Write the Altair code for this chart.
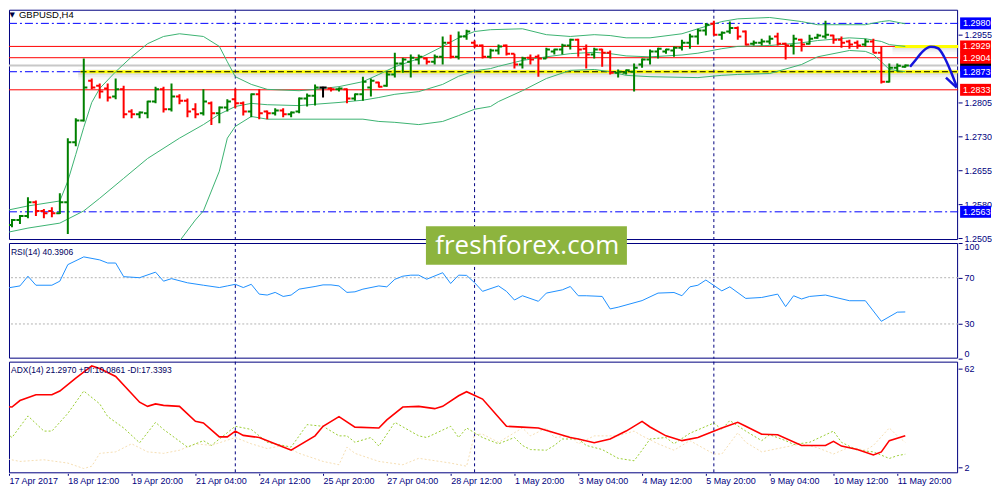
import altair as alt
import numpy as np
import pandas as pd

SYMBOL = "GBPUSD,H4"
RSI_TITLE = "RSI(14) 40.3906"
ADX_TITLE = "ADX(14) 21.2970 +DI:10.0861 -DI:17.3393"
WATERMARK = "freshforex.com"

# ---------------- price bars (H4) ----------------
OPEN = [1.2539,1.2534,1.2545,1.2554,1.2584,1.2565,1.2565,1.2560,1.2584,1.2717,
        1.2765,1.2853,1.2842,1.2836,1.2818,1.2834,1.2785,1.2779,1.2781,1.2807,
        1.2834,1.2790,1.2818,1.2809,1.2790,1.2781,1.2803,1.2781,1.2794,1.2812,
        1.2803,1.2785,1.2823,1.2785,1.2781,1.2787,1.2779,1.2785,1.2814,1.2820,
        1.2838,1.2836,1.2834,1.2834,1.2814,1.2823,1.2838,1.2849,1.2842,1.2867,
        1.2891,1.2895,1.2900,1.2902,1.2895,1.2906,1.2937,1.2906,1.2951,1.2937,
        1.2931,1.2906,1.2920,1.2931,1.2913,1.2889,1.2904,1.2906,1.2902,1.2918,
        1.2922,1.2931,1.2944,1.2924,1.2911,1.2922,1.2915,1.2871,1.2871,1.2873,
        1.2889,1.2900,1.2918,1.2918,1.2920,1.2926,1.2937,1.2951,1.2964,1.2979,
        1.2955,1.2962,1.2970,1.2962,1.2935,1.2937,1.2940,1.2951,1.2935,1.2931,
        1.2944,1.2935,1.2948,1.2951,1.2953,1.2944,1.2940,1.2937,1.2933,1.2940,
        1.2915,1.2851,1.2882,1.2884]
HIGH = [1.2540,1.2547,1.2556,1.2595,1.2588,1.2569,1.2573,1.2604,1.2726,1.2770,
        1.2902,1.2858,1.2847,1.2847,1.2858,1.2842,1.2790,1.2785,1.2809,1.2840,
        1.2840,1.2847,1.2823,1.2814,1.2803,1.2834,1.2807,1.2796,1.2812,1.2836,
        1.2807,1.2825,1.2834,1.2787,1.2792,1.2792,1.2785,1.2816,1.2825,1.2845,
        1.2840,1.2838,1.2838,1.2836,1.2825,1.2862,1.2858,1.2851,1.2873,1.2915,
        1.2904,1.2911,1.2911,1.2904,1.2911,1.2951,1.2955,1.2962,1.2966,1.2942,
        1.2933,1.2924,1.2933,1.2933,1.2913,1.2906,1.2911,1.2911,1.2926,1.2924,
        1.2935,1.2946,1.2946,1.2933,1.2926,1.2924,1.2920,1.2878,1.2878,1.2891,
        1.2902,1.2922,1.2926,1.2924,1.2929,1.2944,1.2957,1.2968,1.2981,1.2986,
        1.2962,1.2984,1.2973,1.2964,1.2942,1.2946,1.2953,1.2959,1.2937,1.2955,
        1.2946,1.2955,1.2957,1.2986,1.2955,1.2951,1.2944,1.2942,1.2946,1.2946,
        1.2929,1.2891,1.2891,1.2889]
LOW = [1.2531,1.2529,1.2536,1.2549,1.2554,1.2549,1.2551,1.2558,1.2514,1.2708,
       1.2763,1.2834,1.2814,1.2807,1.2812,1.2770,1.2770,1.2770,1.2770,1.2803,
       1.2783,1.2785,1.2801,1.2772,1.2770,1.2776,1.2755,1.2759,1.2785,1.2792,
       1.2776,1.2772,1.2768,1.2768,1.2776,1.2772,1.2772,1.2781,1.2796,1.2798,
       1.2816,1.2829,1.2829,1.2803,1.2809,1.2809,1.2818,1.2838,1.2840,1.2860,
       1.2871,1.2860,1.2889,1.2889,1.2889,1.2889,1.2902,1.2900,1.2944,1.2926,
       1.2902,1.2902,1.2911,1.2909,1.2880,1.2880,1.2889,1.2862,1.2902,1.2911,
       1.2911,1.2922,1.2906,1.2880,1.2902,1.2884,1.2867,1.2860,1.2867,1.2829,
       1.2882,1.2889,1.2902,1.2913,1.2906,1.2920,1.2924,1.2933,1.2953,1.2953,
       1.2944,1.2957,1.2944,1.2931,1.2931,1.2931,1.2933,1.2931,1.2900,1.2911,
       1.2918,1.2933,1.2946,1.2946,1.2935,1.2926,1.2924,1.2924,1.2929,1.2915,
       1.2847,1.2849,1.2873,1.2882]
CLOSE = [1.2534,1.2545,1.2554,1.2584,1.2565,1.2560,1.2560,1.2584,1.2717,1.2765,
         1.2838,1.2838,1.2829,1.2816,1.2834,1.2779,1.2779,1.2783,1.2807,1.2834,
         1.2790,1.2818,1.2809,1.2785,1.2779,1.2807,1.2781,1.2794,1.2807,1.2803,
         1.2785,1.2823,1.2781,1.2781,1.2787,1.2779,1.2783,1.2814,1.2820,1.2838,
         1.2838,1.2834,1.2836,1.2814,1.2823,1.2851,1.2853,1.2840,1.2867,1.2891,
         1.2900,1.2904,1.2906,1.2895,1.2906,1.2937,1.2906,1.2951,1.2962,1.2931,
         1.2906,1.2920,1.2929,1.2913,1.2889,1.2902,1.2900,1.2902,1.2922,1.2922,
         1.2931,1.2944,1.2922,1.2911,1.2922,1.2915,1.2871,1.2873,1.2876,1.2882,
         1.2900,1.2918,1.2924,1.2922,1.2926,1.2937,1.2951,1.2964,1.2977,1.2955,
         1.2959,1.2970,1.2951,1.2933,1.2937,1.2940,1.2946,1.2935,1.2931,1.2946,
         1.2933,1.2946,1.2953,1.2955,1.2944,1.2937,1.2933,1.2931,1.2940,1.2915,
         1.2851,1.2882,1.2886,1.2887]

# ---------------- Bollinger bands (bar index, price) ----------------
UPPER_I = [0,3,7,8,9,10,11,12,14,16,18,20,22,25,27,28,29,31,33,37,39,42,45,47,49,52,55,57,59,61,
           65,68,71,74,76,78,81,85,87,90,92,96,100,102,108,110,111,113]
UPPER_P = [1.2565,1.2576,1.2587,1.2631,1.2690,1.2750,1.2805,1.2836,1.2873,1.2906,1.2935,1.2951,
           1.2957,1.2951,1.2929,1.2895,1.2862,1.2845,1.2834,1.2831,1.2834,1.2840,1.2851,1.2867,
           1.2884,1.2902,1.2929,1.2948,1.2962,1.2966,1.2968,1.2955,1.2951,1.2955,1.2953,1.2948,
           1.2948,1.2957,1.2968,1.2984,1.2990,1.2993,1.2984,1.2977,1.2977,1.2984,1.2986,1.2979]
MID_I = [0,3,7,10,12,15,18,22,25,27,29,31,33,37,39,42,45,47,49,52,55,57,59,61,62,65,68,71,74,
         76,78,81,85,87,90,92,96,100,102,106,108,110,111,113]
MID_P = [1.2516,1.2527,1.2538,1.2565,1.2593,1.2637,1.2681,1.2726,1.2756,1.2779,1.2796,1.2803,
         1.2800,1.2798,1.2801,1.2805,1.2810,1.2816,1.2823,1.2829,1.2845,1.2863,1.2875,1.2880,
         1.2885,1.2898,1.2906,1.2913,1.2916,1.2913,1.2908,1.2906,1.2910,1.2914,1.2924,1.2929,
         1.2931,1.2937,1.2942,1.2948,1.2946,1.2940,1.2933,1.2929]
LOWER_I = [19,22,24,25,27,28,29,31,33,45,47,49,52,55,57,59,61,62,65,68,71,74,76,78,81,87,90,92,
           96,100,102,106,108,109,110,111,113]
LOWER_P = [1.2440,1.2498,1.2545,1.2565,1.2653,1.2726,1.2752,1.2774,1.2768,1.2768,1.2763,1.2761,
           1.2756,1.2763,1.2776,1.2790,1.2796,1.2807,1.2831,1.2858,1.2876,1.2878,1.2873,1.2865,
           1.2862,1.2860,1.2865,1.2867,1.2869,1.2889,1.2906,1.2920,1.2918,1.2911,1.2895,1.2878,
           1.2873]

# ---------------- RSI(14) ----------------
RSI_I = [0,2,3,4,6,7,8,10,12,13,14,15,17,19,20,21,23,25,27,28,29,30,31,32,33,34,35,36,37,39,40,
         41,42,43,44,45,47,48,49,50,51,52,53,55,56,57,58,59,60,62,63,64,65,67,68,70,71,72,73,75,
         76,77,80,82,84,85,86,87,88,90,91,93,95,97,98,99,100,101,103,106,108,110,112,113]
RSI_V = [60.6,62.9,71.3,63.5,63.5,67.0,81.3,88.0,85.4,82.7,82.7,70.9,70.0,74.8,67.0,69.2,65.6,
         63.5,61.5,62.9,64.3,61.5,64.3,55.8,55.0,57.3,53.8,55.0,60.1,62.4,63.8,63.8,62.9,57.3,
         57.8,60.1,62.9,62.1,68.6,71.3,72.2,72.2,68.7,74.3,65.0,72.2,72.0,65.7,58.2,62.9,58.2,
         50.7,54.4,49.6,56.7,59.5,62.4,54.4,54.4,53.8,43.0,44.5,50.2,56.7,57.2,54.4,62.1,63.5,
         68.0,58.6,62.1,52.1,52.9,55.8,45.0,54.4,51.6,53.8,55.0,50.1,50.1,32.3,40.2,40.4]
RSI_LEVELS = [30, 70]

# ---------------- ADX(14) ----------------
ADX_I = [0,1,2,4,6,7,9,11,12,14,17,18,19,20,22,24,25,27,28,29,30,32,35,36,39,40,42,44,47,48,
         50,52,54,55,57,58,60,63,65,67,69,71,72,74,76,78,80,81,83,85,87,90,92,93,95,97,100,103,
         104,105,107,109,110,111,113]
ADX_V = [39.1,38.7,42.6,46.1,46.1,48.4,56.2,63.6,62.0,57.2,41.6,39.1,40.6,39.7,39.1,30.0,29.0,
         20.6,20.6,24.1,21.5,20.2,14.4,12.5,21.2,27.0,32.9,26.5,26.0,30.9,38.7,39.1,37.7,39.1,
         45.5,48.0,43.5,27.0,26.5,26.0,23.1,20.2,19.3,17.0,19.3,24.1,30.0,26.6,21.2,18.3,20.2,
         26.0,29.4,27.0,22.2,21.9,15.4,15.4,17.9,15.0,12.9,9.6,11.5,18.3,21.3]
PDI_I = [0,1,3,5,6,8,10,12,13,15,17,19,20,23,25,26,29,31,33,36,38,40,42,43,44,46,47,49,52,53,
         56,57,58,60,62,64,65,66,68,69,70,72,73,75,77,79,80,81,83,84,86,89,90,91,93,95,96,98,99,
         101,104,105,107,109,111,112,113]
PDI_V = [24.1,20.2,33.3,24.1,24.1,34.8,48.4,40.6,32.9,26.0,17.0,29.4,25.1,14.4,18.3,15.4,27.0,
         25.1,17.3,14.4,28.0,27.0,21.2,21.2,17.3,20.2,15.0,29.4,21.2,20.2,27.0,20.2,26.0,20.2,
         16.4,20.2,15.4,12.9,12.5,15.4,19.3,19.3,15.4,12.9,7.6,6.1,12.5,19.3,20.2,16.4,22.8,
         29.0,25.1,30.5,24.1,18.3,21.9,18.3,16.0,17.3,24.1,17.3,12.5,11.5,7.5,9.2,10.1]
MDI_I = [0,2,5,8,10,11,12,14,16,18,20,22,24,26,29,31,33,35,37,40,42,43,44,47,50,52,56,58,59,60,
         62,64,65,66,68,69,71,72,74,77,79,80,82,84,86,89,90,92,93,95,97,100,102,104,106,108,109,
         111,112,113]
MDI_V = [7.6,5.7,6.7,4.7,1.4,2.8,10.6,11.5,16.4,11.5,10.6,12.5,16.4,15.4,20.2,16.4,13.5,15.4,
         10.6,5.7,3.7,14.4,10.6,5.7,3.7,7.6,4.7,2.8,22.2,22.2,17.3,23.1,26.0,21.2,26.0,20.2,21.2,
         16.4,21.2,21.2,24.1,21.2,16.4,12.5,18.3,10.2,10.2,23.1,17.3,11.5,13.5,16.4,14.0,10.2,
         14.4,12.5,15.4,26.0,21.2,17.3]

# ---------------- time axis ----------------
XMIN, XMAX = 0.625, 119.625          # visible bar-index range
TICK_IDX = [XMIN] + list(range(8, 113, 8))
TICK_LABELS = ["17 Apr 2017", "18 Apr 12:00", "19 Apr 20:00", "21 Apr 04:00", "24 Apr 12:00",
               "25 Apr 20:00", "27 Apr 04:00", "28 Apr 12:00", "1 May 20:00", "3 May 04:00",
               "4 May 12:00", "5 May 20:00", "9 May 04:00", "10 May 12:00", "11 May 20:00"]
WEEK_SEP = [29, 59, 89]

# ---------------- horizontal levels ----------------
RED_LEVELS = [1.2929, 1.2904, 1.2833]
BLUE_LEVELS = [1.2980, 1.2873, 1.2563]
BID = [1.2887]
PRICE_TICKS = [1.2505, 1.2580, 1.2655, 1.2730, 1.2805, 1.2955]
BOX_TEXT = ["1.2980", "1.2929", "1.2904", "1.2873", "1.2833", "1.2563"]
BOX_COLOR = ["#0000ff", "#ff0000", "#ff0000", "#0000ff", "#ff0000", "#0000ff"]

# yellow zone segments (start bar, level)
YELLOW_START = [9.6, 111.7]
YELLOW_LEVEL = [1.2873, 1.2929]

# hand drawn forecast arrow (bar index, price)
ARROW_I = [113.6, 114.3, 115.2, 116.2, 117.1, 117.9, 118.7, 119.45]
ARROW_P = [1.2884, 1.2899, 1.2918, 1.2928, 1.2925, 1.2905, 1.2874, 1.2840]
HEAD_I = [118.1, 119.45]
HEAD_P = [1.2860, 1.2838]

# ---------------- layout ----------------
W = 952
H1, H2, H3 = 231, 116, 112
NAVY = "#000080"
FONT = "Liberation Sans"

xs = alt.Scale(domain=[XMIN, XMAX], nice=False, zero=False)
ps = alt.Scale(domain=[1.25006, 1.30102], nice=False, zero=False)
rs = alt.Scale(domain=[0, 100], nice=False, zero=False)
as_ = alt.Scale(domain=[-1.5, 66.2], nice=False, zero=False)

labels_js = "[" + ",".join("'%s'" % s for s in TICK_LABELS) + "]"
x_axis = alt.Axis(orient="bottom", values=TICK_IDX, labelExpr=labels_js + "[round(datum.value / 8)]",
                  labelAlign="left", tickSize=2, labelPadding=1, labelFlush=False, labelFontSize=9,
                  title=None, domain=False, grid=False)
p_axis = alt.Axis(orient="right", values=PRICE_TICKS, format=".4f", title=None, domain=False, grid=False)
r_axis = alt.Axis(orient="right", values=[0, 30, 70, 100], labelFlush=True, title=None, domain=False, grid=False)
a_axis = alt.Axis(orient="right", values=[2, 62], title=None, domain=False, grid=False)


def XP(f):
    return alt.X(f, type="quantitative", scale=xs, axis=None)


def XA(f):
    return alt.X(f, type="quantitative", scale=xs, axis=x_axis)


def YP(f):
    return alt.Y(f, type="quantitative", scale=ps, axis=p_axis)


def YR(f):
    return alt.Y(f, type="quantitative", scale=rs, axis=r_axis)


def YA(f):
    return alt.Y(f, type="quantitative", scale=as_, axis=a_axis)


ONE = pd.DataFrame({"a": [0]})


def frame(h):
    return alt.Chart(ONE).mark_rect(fillOpacity=0, stroke=NAVY, strokeWidth=1).encode(
        x=alt.value(0.5), x2=alt.value(W - 0.5), y=alt.value(0.5), y2=alt.value(h - 0.5))


def seps(X):
    return alt.Chart(pd.DataFrame({"i": WEEK_SEP})).mark_rule(
        color=NAVY, strokeDash=[3, 3], strokeWidth=1).encode(x=X("i"))


# ---------------- price panel ----------------
bars = pd.DataFrame({"i": np.arange(len(OPEN)), "o": OPEN, "h": HIGH, "l": LOW, "c": CLOSE})
bars["col"] = np.where(bars.c > bars.o, "#008000", np.where(bars.c < bars.o, "#ff0000", "#000000"))
bars["xl"] = bars.i - 0.45
bars["xr"] = bars.i + 0.45
colenc = alt.Color("col:N", scale=None)

shadow = pd.DataFrame({
    "x1": [9.3, 9.3, 9.3, 9.3, 111.4, 111.4, 111.4],
    "x2": [XMAX] * 7,
    "p1": [1.2879, 1.2872, 1.2866, 1.2861, 1.2928, 1.2922, 1.2917],
    "p2": [1.2875, 1.2866, 1.2861, 1.2855, 1.2922, 1.2917, 1.2911],
    "op": [0.07, 0.22, 0.12, 0.05, 0.2, 0.1, 0.04],
})
shadow_l = alt.Chart(shadow).mark_rect(color="#707070").encode(
    x=XP("x1"), x2="x2", y=YP("p1"), y2="p2", opacity=alt.Opacity("op:Q", scale=None))

red_l = alt.Chart(pd.DataFrame({"p": RED_LEVELS})).mark_rule(color="#ff0000", strokeWidth=1).encode(y=YP("p"))
blue_l = alt.Chart(pd.DataFrame({"p": BLUE_LEVELS})).mark_rule(
    color="#0000ff", strokeWidth=1, strokeDash=[8, 3, 2, 3]).encode(y=YP("p"))
bid_l = alt.Chart(pd.DataFrame({"p": BID})).mark_rule(color="#c8c8c8", strokeWidth=2).encode(y=YP("p"))

yel = pd.DataFrame({"x1": YELLOW_START, "x2": [XMAX] * 2, "p": YELLOW_LEVEL})
yel_l = alt.Chart(yel).mark_rule(color="#ffff00", strokeWidth=3).encode(x=XP("x1"), x2="x2", y=YP("p"))
yel_dash = alt.Chart(yel.iloc[:1]).mark_rule(color="#000000", strokeWidth=1, strokeDash=[6, 3]).encode(
    x=XP("x1"), x2="x2", y=YP("p"))

bands = pd.concat([
    pd.DataFrame({"i": UPPER_I, "p": UPPER_P, "b": "u"}),
    pd.DataFrame({"i": MID_I, "p": MID_P, "b": "m"}),
    pd.DataFrame({"i": LOWER_I, "p": LOWER_P, "b": "l"}),
])
bands_l = alt.Chart(bands).mark_line(color="#3cb371", strokeWidth=1, clip=True).encode(
    x=XP("i"), y=YP("p"), detail="b:N")

hl_l = alt.Chart(bars).mark_rule(strokeWidth=2, clip=True).encode(
    x=XP("i"), y=YP("l"), y2="h", color=colenc)
op_l = alt.Chart(bars).mark_rule(strokeWidth=2, clip=True).encode(
    x=XP("xl"), x2="i", y=YP("o"), color=colenc)
cl_l = alt.Chart(bars).mark_rule(strokeWidth=2, clip=True).encode(
    x=XP("i"), x2="xr", y=YP("c"), color=colenc)

arrow_l = alt.Chart(pd.DataFrame({"i": ARROW_I, "p": ARROW_P})).mark_line(
    color="#1414dc", strokeWidth=2.5, interpolate="monotone").encode(x=XP("i"), y=YP("p"))
head_l = alt.Chart(pd.DataFrame({"i": HEAD_I, "p": HEAD_P})).mark_line(
    color="#1414dc", strokeWidth=2.5).encode(x=XP("i"), y=YP("p"))

HALF = 0.00132
bid_box = pd.DataFrame({"p": BID})
bid_box["hi"] = bid_box.p + HALF
bid_box["lo"] = bid_box.p - HALF
boxes = pd.DataFrame({"p": [float(s) for s in BOX_TEXT], "t": BOX_TEXT, "col": BOX_COLOR})
boxes["hi"] = boxes.p + HALF
boxes["lo"] = boxes.p - HALF

bidbox_r = alt.Chart(bid_box).mark_rect(color="#000000").encode(
    x=alt.value(W + 2), x2=alt.value(W + 33), y=YP("hi"), y2="lo")
box_r = alt.Chart(boxes).mark_rect().encode(
    x=alt.value(W + 2), x2=alt.value(W + 33), y=YP("hi"), y2="lo", color=colenc)
box_t = alt.Chart(boxes).mark_text(align="left", baseline="middle", font=FONT, fontSize=9,
                                   color="#ffffff").encode(x=alt.value(W + 5), y=YP("p"), text="t:N")

title_t = alt.Chart(ONE).mark_text(align="left", baseline="top", font=FONT, fontSize=9.5,
                                   color="#000000").encode(x=alt.value(10), y=alt.value(0.5),
                                                           text=alt.value(SYMBOL))
tri_t = alt.Chart(ONE).mark_text(align="left", baseline="top", font="DejaVu Sans", fontSize=7,
                                 color="#000040").encode(x=alt.value(0.5), y=alt.value(1.5),
                                                         text=alt.value("\u25bc"))

price = alt.layer(
    frame(H1), shadow_l, bid_l, red_l, blue_l, yel_l, yel_dash, seps(XP), bands_l,
    hl_l, op_l, cl_l, arrow_l, head_l, bidbox_r, box_r, box_t, title_t, tri_t
).properties(width=W, height=H1)

# ---------------- RSI panel ----------------
rsi_df = pd.DataFrame({"i": RSI_I, "v": RSI_V})
rsi_lv = alt.Chart(pd.DataFrame({"v": RSI_LEVELS})).mark_rule(
    color="#b4b4b4", strokeDash=[2, 2], strokeWidth=1).encode(y=YR("v"))
rsi_line = alt.Chart(rsi_df).mark_line(color="#1e90ff", strokeWidth=1, clip=True).encode(
    x=XP("i"), y=YR("v"))
rsi_t = alt.Chart(ONE).mark_text(align="left", baseline="middle", font=FONT, fontSize=8.5,
                                 color="#000060").encode(x=alt.value(2), y=alt.value(9),
                                                         text=alt.value(RSI_TITLE))
wm = pd.DataFrame({"x1": [52.9], "x2": [78.1], "v1": [114.5], "v2": [81.2], "xc": [65.6], "vc": [97.0],
                   "t": [WATERMARK]})
wm_r = alt.Chart(wm).mark_rect(color="#8db43e").encode(x=XP("x1"), x2="x2", y=YR("v1"), y2="v2")
wm_t = alt.Chart(wm).mark_text(align="center", baseline="middle", font="Open Sans", fontSize=26,
                               color="#ffffff").encode(x=XP("xc"), y=YR("vc"), text="t:N")
rsi = alt.layer(frame(H2), seps(XP), rsi_lv, rsi_line, rsi_t, wm_r, wm_t).properties(width=W, height=H2)

# ---------------- ADX panel ----------------
adx_l = alt.Chart(pd.DataFrame({"i": ADX_I, "v": ADX_V})).mark_line(
    color="#ff0000", strokeWidth=1.6, clip=True).encode(x=XA("i"), y=YA("v"))
pdi_l = alt.Chart(pd.DataFrame({"i": PDI_I, "v": PDI_V})).mark_line(
    color="#9acd32", strokeWidth=1, strokeDash=[2, 2], clip=True).encode(x=XA("i"), y=YA("v"))
mdi_l = alt.Chart(pd.DataFrame({"i": MDI_I, "v": MDI_V})).mark_line(
    color="#f5deb3", strokeWidth=1, strokeDash=[2, 2], clip=True).encode(x=XA("i"), y=YA("v"))
adx_t = alt.Chart(ONE).mark_text(align="left", baseline="middle", font=FONT, fontSize=8.5,
                                 color="#000060").encode(x=alt.value(2), y=alt.value(8),
                                                         text=alt.value(ADX_TITLE))
adx = alt.layer(frame(H3), seps(XA), mdi_l, pdi_l, adx_l, adx_t).properties(width=W, height=H3)

chart = alt.vconcat(price, rsi, adx, spacing=3, bounds="flush").properties(
    padding={"left": 0, "top": 0, "right": 0, "bottom": 0}
).configure_view(strokeWidth=0).configure_axis(
    labelFont=FONT, labelFontSize=9, labelColor=NAVY, tickColor=NAVY, tickSize=4, labelPadding=2
)

chart.save("out.html", embed_options={"renderer": "svg", "actions": False})
